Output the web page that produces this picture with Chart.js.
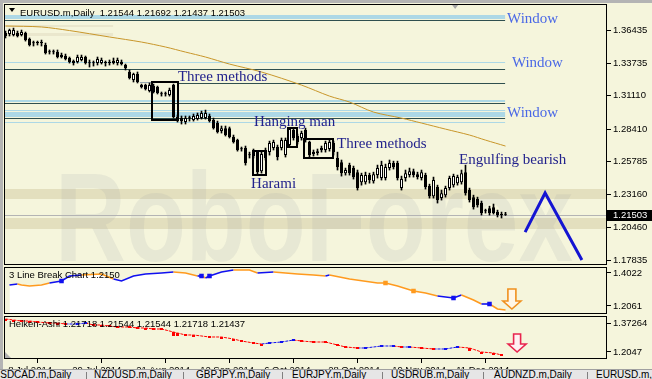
<!DOCTYPE html>
<html><head><meta charset="utf-8">
<script src="https://cdn.jsdelivr.net/npm/chart.js@4.4.1/dist/chart.umd.min.js"></script>
<style>
html,body{margin:0;padding:0;}
body{width:652px;height:379px;position:relative;overflow:hidden;background:#F5F5DC;}
canvas{position:absolute;display:block;}
#ftop{position:absolute;left:0;top:0;width:652px;height:3px;background:#B4B4B4;}
#fleft{position:absolute;left:0;top:0;width:3px;height:379px;background:#B4B4B4;}
#tabs{position:absolute;left:0;top:369px;width:652px;height:10px;background:#E6E6E6;border-top:1px solid #A0A0A0;overflow:hidden;font:10px "Liberation Sans",Arial,sans-serif;color:#000;}
#tabs span{position:absolute;top:0;line-height:10px;white-space:nowrap;}
#tabs .sep{position:absolute;top:2px;width:1px;height:10px;background:#808080;}
</style></head><body>
<canvas id="cMain" width="649" height="263" style="left:3px;top:3px"></canvas>
<canvas id="cLB" width="649" height="49" style="left:3px;top:266px"></canvas>
<canvas id="cHA" width="649" height="64" style="left:3px;top:315px"></canvas>
<div id="ftop"></div><div id="fleft"></div>
<div id="tabs"></div>
<script>
// ---------------- DATA ----------------
const symbolName = 'EURUSD.m,Daily';
const O = [1.3619,1.3611,1.3603,1.3619,1.3603,1.3619,1.3571,1.3538,1.3540,1.3538,1.3522,1.3465,1.3463,1.3465,1.3441,1.3433,1.3417,1.3393,1.3384,1.3401,
1.3425,1.3376,1.3374,1.3376,1.3376,1.3378,1.3384,1.3376,1.3376,1.3384,1.3360,1.3304,1.3239,1.3287,1.3198,1.3198,1.3150,1.3190,1.3182,1.3126,
1.3124,1.3117,1.3198,1.2939,1.2931,1.2899,1.2931,1.2915,1.2923,1.2931,1.2931,1.2948,1.2915,1.2891,1.2826,1.2850,1.2850,1.2778,1.2753,1.2681,
1.2689,1.2632,1.2673,1.2656,1.2502,1.2608,1.2656,1.2689,1.2697,1.2689,1.2632,1.2713,1.2834,1.2786,1.2770,1.2834,1.2737,1.2656,1.2648,1.2673,
1.2673,1.2681,1.2729,1.2608,1.2575,1.2486,1.2551,1.2527,1.2494,1.2413,1.2413,1.2470,1.2421,1.2470,1.2446,1.2446,1.2527,1.2567,1.2567,1.2365,
1.2446,1.2470,1.2502,1.2478,1.2446,1.2470,1.2381,1.2300,1.2373,1.2284,1.2308,1.2365,1.2389,1.2405,1.2413,1.2494,1.2349,1.2292,1.2276,1.2244,
1.2179,1.2203,1.2211,1.2171,1.2149,1.21544];
const H = [1.3635,1.3651,1.3659,1.3635,1.3643,1.3627,1.3579,1.3554,1.3554,1.3562,1.3538,1.3482,1.3482,1.3482,1.3457,1.3449,1.3425,1.3401,1.3441,1.3441,
1.3433,1.3401,1.3393,1.3425,1.3417,1.3393,1.3401,1.3417,1.3417,1.3401,1.3368,1.3320,1.3295,1.3304,1.3206,1.3206,1.3215,1.3206,1.3190,1.3142,
1.3142,1.3174,1.3206,1.2956,1.2948,1.2948,1.2948,1.2964,1.2972,1.2988,1.2996,1.2964,1.2931,1.2907,1.2867,1.2867,1.2859,1.2794,1.2761,1.2697,
1.2705,1.2656,1.2681,1.2664,1.2656,1.2689,1.2745,1.2753,1.2713,1.2770,1.2770,1.2850,1.2842,1.2802,1.2826,1.2850,1.2745,1.2673,1.2681,1.2705,
1.2745,1.2761,1.2745,1.2656,1.2592,1.2527,1.2567,1.2543,1.2511,1.2486,1.2494,1.2486,1.2494,1.2551,1.2583,1.2559,1.2592,1.2583,1.2583,1.2462,
1.2511,1.2527,1.2519,1.2494,1.2511,1.2486,1.2397,1.2454,1.2389,1.2349,1.2381,1.2462,1.2478,1.2470,1.2511,1.2551,1.2365,1.2308,1.2292,1.2260,
1.2195,1.2219,1.2236,1.2187,1.2171,1.21692];
const L = [1.3579,1.3595,1.3595,1.3587,1.3595,1.3554,1.3514,1.3514,1.3522,1.3514,1.3449,1.3449,1.3449,1.3417,1.3417,1.3401,1.3376,1.3360,1.3376,1.3393,
1.3368,1.3344,1.3352,1.3360,1.3368,1.3352,1.3360,1.3368,1.3360,1.3360,1.3320,1.3247,1.3223,1.3215,1.3174,1.3158,1.3142,1.3134,1.3126,1.3109,
1.3109,1.3109,1.2931,1.2899,1.2883,1.2883,1.2907,1.2907,1.2915,1.2923,1.2923,1.2899,1.2842,1.2810,1.2810,1.2786,1.2770,1.2729,1.2664,1.2664,
1.2551,1.2608,1.2608,1.2478,1.2486,1.2592,1.2632,1.2673,1.2592,1.2673,1.2616,1.2697,1.2753,1.2721,1.2753,1.2737,1.2616,1.2624,1.2632,1.2656,
1.2656,1.2664,1.2632,1.2511,1.2462,1.2470,1.2470,1.2438,1.2349,1.2389,1.2397,1.2405,1.2405,1.2446,1.2430,1.2430,1.2511,1.2519,1.2430,1.2349,
1.2421,1.2454,1.2454,1.2438,1.2430,1.2357,1.2284,1.2284,1.2244,1.2268,1.2292,1.2349,1.2373,1.2389,1.2397,1.2308,1.2252,1.2195,1.2211,1.2147,
1.2163,1.2147,1.2155,1.2131,1.2123,1.21437];
const C = [1.3595,1.3643,1.3643,1.3595,1.3627,1.3562,1.3522,1.3536,1.3538,1.3540,1.3457,1.3463,1.3465,1.3425,1.3425,1.3409,1.3384,1.3376,1.3425,1.3425,
1.3376,1.3374,1.3376,1.3409,1.3401,1.3376,1.3376,1.3393,1.3401,1.3368,1.3336,1.3255,1.3287,1.3223,1.3182,1.3166,1.3198,1.3142,1.3134,1.3124,
1.3126,1.3158,1.2939,1.2915,1.2907,1.2931,1.2929,1.2948,1.2956,1.2972,1.2972,1.2907,1.2850,1.2818,1.2850,1.2794,1.2778,1.2737,1.2673,1.2679,
1.2567,1.2630,1.2624,1.2494,1.2640,1.2673,1.2729,1.2737,1.2616,1.2753,1.2753,1.2842,1.2770,1.2737,1.2810,1.2753,1.2632,1.2640,1.2664,1.2689,
1.2729,1.2737,1.2656,1.2535,1.2486,1.2511,1.2486,1.2454,1.2365,1.2470,1.2470,1.2430,1.2478,1.2527,1.2551,1.2535,1.2567,1.2535,1.2446,1.2438,
1.2486,1.2502,1.2470,1.2454,1.2494,1.2373,1.2300,1.2430,1.2268,1.2324,1.2365,1.2446,1.2462,1.2454,1.2486,1.2324,1.2268,1.2211,1.2227,1.2163,
1.2177,1.2163,1.2163,1.2147,1.2147,1.21503];

// moving average (sparse readings, bar index / price)
const maIdx = [0,9,16,26,34,40,45,50,56,64,74,81,86,92,99,104,110,116,120,125];
const maVal = [1.3676,1.3668,1.3639,1.3587,1.3546,1.3506,1.3465,1.3425,1.3368,1.3304,1.3198,1.3109,1.3061,1.2980,1.2931,1.2891,1.2842,1.2794,1.2753,1.2705];

// forecast zigzag
const zzIdx = [129.9, 134.9, 144.1];
const zzVal = [1.2009, 1.2325, 1.1783];

// price axis
const priceTicks = [1.36435,1.33735,1.31110,1.28410,1.25785,1.23160,1.20460,1.17835];

// horizontal levels ("Window" gaps)
const levelEnd = 124.9;
const blueBandTop = [1.3762, 1.3077, 1.2980];
const blueBandBot = [1.3735, 1.3065, 1.2939];
const blueLine = [1.3384, 1.2996, 1.2899];
const darkLine = [1.3728, 1.3328, 1.3057, 1.2931];
const darkShort = 1.3215, darkShortFrom = 43.1;
const grayShort = 1.3223, grayShortFrom = 33.6, grayShortTo = 43.1;

// support/resistance zones
const supTop = [1.2357, 1.2123];
const supBot = [1.2276, 1.2034];
const oldTop = [1.3684, 1.3619];
const oldBot = [1.3664, 1.3591];
const oldTo = 26.9;

// pattern boxes
const boxFrom = [36.6, 61.9, 70.6, 74.6];
const boxTo   = [43.1, 65.1, 72.9, 81.9];
const boxTop  = [1.3223, 1.2664, 1.2850, 1.2761];
const boxBot  = [1.2915, 1.2470, 1.2697, 1.2608];

// labels
const patText  = ['Three methods','Hanging man','Three methods','Harami','Engulfing bearish'];
const patIdx   = [43.1, 62.1, 82.9, 61.4, 113.4];
const patPrice = [1.3231, 1.2867, 1.2689, 1.2365, 1.2559];
const winText  = ['Window','Window','Window'];
const winIdx   = [125.4, 126.6, 125.4];
const winPrice = [1.3700, 1.3344, 1.2939];
const shiftIdx = 112.4;

// 3 Line Break sub-window
const lbTitle = '3 Line Break Chart 1.2150';
const lbIdx = [1,3,4,6,9,11,14,16,19,24,27,29,32,35,39,42,45,48,49,50,51,54,57,61,63,67,70,73,77,80,81,86,93,95,98,102,105,108,112,114,117,119,121,123,125];
const lbVal = [1.3309,1.3368,1.3309,1.3250,1.3309,1.3428,1.3547,1.3844,1.3903,1.3963,1.3665,1.3547,1.3844,1.3963,1.4022,1.4081,1.4022,1.3844,1.3844,1.3725,
1.3844,1.4081,1.4200,1.4200,1.4022,1.4081,1.4022,1.3963,1.3903,1.3844,1.3903,1.3665,1.3428,1.3428,1.3250,1.2952,1.2834,1.2655,1.2537,1.2715,
1.2418,1.2180,1.2180,1.1883,1.1824];
const lbCol = ['b','b','o','o','o','o','b','b','b','o','o','b','b','b','b','b','o','o','b','o','b','b','b','o','o','b','o','o','o','o','b','o','o','o','o','o','o','o','b','b','o','o','b','o','o'];
const lbSq  = [14,49,51,95,102,112,121];
const lbTicks = [1.4022, 1.2061];
const lbTickLbl = ['1.4022','1.2061'];
const lbArrowIdx = 126.6, lbArrowVal = 1.3071;

// Heiken-Ashi sub-window
const haHeader = ['1.21718','1.21544','1.21544','1.21718','1.21437'];
const haIdx = [0,2,4,6,8,11,13,15,18,20,22,24,26,28,31,33,35,37,39,42,43,45,47,51,54,57,59,62,64,66,69,72,74,77,80,83,85,88,90,94,97,99,101,104,107,110,113,116,119,122,124];
const haTop = [1.3958,1.3900,1.3842,1.3842,1.3784,1.3726,1.3726,1.3669,1.3669,1.3726,1.3611,1.3611,1.3553,1.3495,1.3495,1.3437,1.3437,1.3379,1.3379,1.3205,
1.3147,1.3032,1.3032,1.2916,1.2916,1.2800,1.2684,1.2568,1.2510,1.2568,1.2626,1.2742,1.2684,1.2626,1.2626,1.2452,1.2337,1.2279,1.2279,1.2395,
1.2395,1.2337,1.2337,1.2279,1.2221,1.2221,1.2337,1.2279,1.2047,1.1989,1.1873];
const haBot = [1.3842,1.3784,1.3784,1.3726,1.3726,1.3669,1.3611,1.3611,1.3611,1.3669,1.3553,1.3495,1.3495,1.3437,1.3437,1.3379,1.3321,1.3321,1.3321,1.2974,
1.2974,1.2974,1.2916,1.2858,1.2800,1.2684,1.2626,1.2510,1.2395,1.2510,1.2568,1.2684,1.2626,1.2568,1.2568,1.2395,1.2279,1.2221,1.2221,1.2337,
1.2337,1.2279,1.2279,1.2221,1.2163,1.2163,1.2279,1.2105,1.1931,1.1873,1.1815];
const haCol = ['r','r','r','r','r','r','r','r','b','b','r','r','r','r','r','r','r','r','r','r','r','r','r','r','r','r','r','r','r','b','b','b','r','r','r','r','r','r','b','b','b','r','b','r','r','b','b','r','r','r','r'];
const haTicks = [1.37264, 1.2047];
const haTickLbl = ['1.37264','1.2047'];
const haArrowIdx = 127.9, haArrowVal = 1.3089;

// date axis
const dateIdx = [0,16,32,48,64,80,96,112];
const dateLbl = ['8 Jul 2014','29 Jul 2014','21 Aug 2014','12 Sep 2014','6 Oct 2014','28 Oct 2014','19 Nov 2014','11 Dec 2014'];

// bottom tabs
const tabNames = ['USDCAD.m,Daily','NZDUSD.m,Daily','GBPJPY.m,Daily','EURJPY.m,Daily','USDRUB.m,Daily','AUDNZD.m,Daily','EURUSD.m,Daily'];

// ---------------- LAYOUT / STYLE ----------------
const SANS = '"Liberation Sans", Arial, sans-serif';
const SERIF = '"Liberation Serif", "Times New Roman", serif';
Chart.defaults.font.family = SANS;
const xMin = -0.375, xMax = 150.375;
const tabX = [-7, 94, 196, 292, 391, 494, 596];
const tabSep = [86, 183, 282, 382, 483, 587];

function xAxisHidden(){ return {type:'linear', min:xMin, max:xMax, offset:false, display:false}; }
function yAxis(min, max, vals, lbls){
  return {position:'right', min:min, max:max,
    afterBuildTicks: s => { s.ticks = vals.map(v => ({value:v})); },
    afterFit: s => { s.width = 45; s.paddingTop = 0; s.paddingBottom = 0; },
    ticks:{autoSkip:false, padding:2, color:'#000', font:{size:9.5}, callback:(v,i)=>lbls[i]},
    grid:{drawOnChartArea:false, tickLength:4, color:'#000', lineWidth:1},
    border:{display:false}};
}
function baseOpts(padBottom){
  return {responsive:false, animation:false, devicePixelRatio:1, events:[],
    layout:{padding:{left:1, top:1, right:0, bottom:padBottom}, autoPadding:false},
    plugins:{legend:{display:false}, tooltip:{enabled:false}}};
}
function clipArea(ctx, a){ ctx.beginPath(); ctx.rect(a.left, a.top, a.right-a.left, a.bottom-a.top); ctx.clip(); }
function hline(ctx, x0, x1, y, color, w){ ctx.fillStyle = color; ctx.fillRect(x0, Math.round(y), x1-x0, w||1); }
function borderRect(ctx, a){ ctx.save(); ctx.strokeStyle='#000'; ctx.lineWidth=1; ctx.strokeRect(a.left+0.5, a.top+0.5, a.right-a.left-1, a.bottom-a.top-1); ctx.restore(); }
function downArrow(ctx, cx, top, sw, sh, hw, hh, stroke, fill){
  ctx.beginPath();
  ctx.moveTo(cx-sw/2, top); ctx.lineTo(cx+sw/2, top); ctx.lineTo(cx+sw/2, top+sh);
  ctx.lineTo(cx+hw/2, top+sh); ctx.lineTo(cx, top+sh+hh); ctx.lineTo(cx-hw/2, top+sh);
  ctx.lineTo(cx-sw/2, top+sh); ctx.closePath();
  ctx.fillStyle = fill; ctx.fill(); ctx.lineWidth = 1.6; ctx.strokeStyle = stroke; ctx.stroke();
}

// ---------------- MAIN CHART ----------------
const mainDecor = {
  id:'mainDecor',
  beforeDatasetsDraw(chart){
    const {ctx, chartArea:a, scales:{x, y}} = chart;
    const X = v => x.getPixelForValue(v), Y = v => y.getPixelForValue(v);
    ctx.save(); clipArea(ctx, a);
    ctx.fillStyle = '#EAE7CD';
    oldTop.forEach((t,i)=>{ const y0=Math.round(Y(t)), y1=Math.round(Y(oldBot[i])); ctx.fillRect(a.left, y0, X(oldTo)-a.left, y1-y0); });
    ctx.fillStyle = '#E3DFBE';
    supTop.forEach((t,i)=>{ const y0=Math.round(Y(t)), y1=Math.round(Y(supBot[i])); ctx.fillRect(a.left, y0, a.right-a.left, y1-y0); });
    // watermark
    ctx.save();
    ctx.font = 'bold 128px ' + SANS;
    const w = ctx.measureText('RoboForex').width;
    ctx.translate(a.left + 51, a.top + 257);
    ctx.scale(518 / w, 0.98);
    ctx.fillStyle = 'rgba(150,158,160,0.14)';
    ctx.fillText('RoboForex', 0, 0);
    ctx.restore();
    const xe = X(levelEnd);
    ctx.fillStyle = '#ADD8E6';
    blueBandTop.forEach((t,i)=>{ const y0=Math.round(Y(t)), y1=Math.round(Y(blueBandBot[i])); ctx.fillRect(a.left, y0, xe-a.left, Math.max(1,y1-y0)); });
    blueLine.forEach(v => hline(ctx, a.left, xe, Y(v), '#ADD8E6', 1));
    darkLine.forEach(v => hline(ctx, a.left, xe, Y(v), '#2F4F4F', 1));
    hline(ctx, X(darkShortFrom), xe, Y(darkShort), '#2F4F4F', 1);
    hline(ctx, X(grayShortFrom), X(grayShortTo), Y(grayShort), '#98A8B0', 1);
    hline(ctx, a.left, a.right, Y(C[C.length-1]), '#B4B4B4', 1);
    ctx.restore();
  },
  afterDatasetsDraw(chart){
    const {ctx, chartArea:a, scales:{x, y}} = chart;
    const X = v => x.getPixelForValue(v), Y = v => y.getPixelForValue(v);
    ctx.save(); clipArea(ctx, a);
    ctx.strokeStyle = '#000'; ctx.lineWidth = 2;
    boxFrom.forEach((f,i)=>{ const x0=Math.round(X(f)), x1=Math.round(X(boxTo[i])), y0=Math.round(Y(boxTop[i])), y1=Math.round(Y(boxBot[i])); ctx.strokeRect(x0, y0, x1-x0, y1-y0); });
    ctx.font = '15px ' + SERIF; ctx.textBaseline = 'alphabetic'; ctx.textAlign = 'left';
    ctx.fillStyle = '#22228C';
    patText.forEach((t,i)=> ctx.fillText(t, X(patIdx[i]), Y(patPrice[i])));
    ctx.fillStyle = '#4A68E6';
    winText.forEach((t,i)=> ctx.fillText(t, X(winIdx[i]), Y(winPrice[i])));
    const sx = X(shiftIdx);
    ctx.fillStyle = '#A8A8A8';
    ctx.beginPath(); ctx.moveTo(sx-3, a.top+1); ctx.lineTo(sx+3, a.top+1); ctx.lineTo(sx, a.top+5); ctx.closePath(); ctx.fill();
    ctx.fillStyle = '#000';
    ctx.beginPath(); ctx.moveTo(a.left+5, a.top+4); ctx.lineTo(a.left+11, a.top+4); ctx.lineTo(a.left+8, a.top+8); ctx.closePath(); ctx.fill();
    ctx.font = '9.5px ' + SANS; ctx.textBaseline = 'middle';
    const n = C.length-1;
    ctx.fillText(symbolName + '  ' + [O[n],H[n],L[n],C[n]].map(v=>v.toFixed(5)).join(' '), a.left+16, a.top+9);
    ctx.restore();
    borderRect(ctx, a);
    const yp = Y(C[n]);
    ctx.fillStyle = '#000';
    ctx.fillRect(a.right, Math.round(yp)-5, chart.width - a.right, 11);
    ctx.fillStyle = '#FFF'; ctx.font = '9.5px ' + SANS; ctx.textBaseline = 'middle';
    ctx.fillText(C[n].toFixed(5), a.right+6, Math.round(yp)+0.5);
  }
};

new Chart(document.getElementById('cMain'), {
  type:'bar',
  data:{datasets:[
    {type:'bar', data:C.map((c,i)=>({x:i, y:[O[i], c]})), grouped:false, barPercentage:0.75, categoryPercentage:1,
     minBarLength:1, borderWidth:1, borderColor:'#000', borderSkipped:false,
     backgroundColor: ctx => (C[ctx.dataIndex] >= O[ctx.dataIndex] ? '#FFFFFF' : '#000000')},
    {type:'bar', data:C.map((c,i)=>({x:i, y:[L[i], H[i]]})), grouped:false, maxBarThickness:1, barPercentage:1, categoryPercentage:1,
     backgroundColor:'#000', borderWidth:0},
    {type:'line', data:maIdx.map((k,i)=>({x:k, y:maVal[i]})), borderColor:'#C8962A', borderWidth:1, pointRadius:0, tension:0.3},
    {type:'line', data:zzIdx.map((k,i)=>({x:k, y:zzVal[i]})), borderColor:'#1414D2', borderWidth:3, pointRadius:0, tension:0}
  ]},
  options:Object.assign(baseOpts(1), {scales:{x:xAxisHidden(), y:yAxis(1.17431, 1.38538, priceTicks, priceTicks.map(v=>v.toFixed(5)))}}),
  plugins:[mainDecor]
});

// ---------------- 3 LINE BREAK ----------------
const lbDecor = {
  id:'lbDecor',
  afterDatasetsDraw(chart){
    const {ctx, chartArea:a, scales:{x, y}} = chart;
    ctx.save(); clipArea(ctx, a);
    downArrow(ctx, x.getPixelForValue(lbArrowIdx), y.getPixelForValue(lbArrowVal), 8, 12, 18, 8, '#F0901E', '#FFF6E6');
    ctx.fillStyle = '#000'; ctx.font = '9.5px ' + SANS; ctx.textBaseline = 'middle';
    ctx.fillText(lbTitle, a.left+5, a.top+8.5);
    ctx.restore();
    borderRect(ctx, a);
  }
};
const lbPoints = lbIdx.map((k,i)=>({x:k, y:lbVal[i]}));
new Chart(document.getElementById('cLB'), {
  type:'line',
  data:{datasets:[
    {data:lbPoints, borderWidth:1.6, tension:0, fill:false,
     segment:{borderColor: c => lbCol[c.p1DataIndex]==='b' ? '#1010F0' : '#FF9A1E'},
     pointStyle:'rect', pointBorderWidth:0,
     pointRadius: c => lbSq.includes(lbIdx[c.dataIndex]) ? 3.2 : 0,
     pointBackgroundColor: c => lbCol[c.dataIndex]==='b' ? '#1010F0' : '#FF9A1E'},
    {data:lbPoints, fill:'start', backgroundColor:'#FFFFFF', borderWidth:0, borderColor:'rgba(0,0,0,0)', pointRadius:0, tension:0}
  ]},
  options:Object.assign(baseOpts(1), {scales:{x:xAxisHidden(), y:yAxis(1.15856, 1.43785, lbTicks, lbTickLbl)}}),
  plugins:[lbDecor]
});

// ---------------- HEIKEN ASHI ----------------
const haDecor = {
  id:'haDecor',
  afterDatasetsDraw(chart){
    const {ctx, chartArea:a, scales:{x, y}} = chart;
    ctx.save(); clipArea(ctx, a);
    downArrow(ctx, x.getPixelForValue(haArrowIdx), y.getPixelForValue(haArrowVal), 7, 10, 18, 8, '#E8244E', '#FFF0F2');
    ctx.fillStyle = '#000'; ctx.font = '9.5px ' + SANS; ctx.textBaseline = 'middle';
    ctx.fillText('Heiken-Ashi ' + haHeader.join(' '), a.left+5, a.top+8.5);
    ctx.fillStyle = '#B0B0B0';
    ctx.beginPath(); ctx.moveTo(a.left+1, a.bottom-7); ctx.lineTo(a.left+1, a.bottom-1); ctx.lineTo(a.left+7, a.bottom-1); ctx.closePath(); ctx.fill();
    ctx.restore();
    borderRect(ctx, a);
  }
};
const haColor = c => haCol[c.dataIndex]==='b' ? '#1010F0' : '#FF0000';
new Chart(document.getElementById('cHA'), {
  type:'bar',
  data:{datasets:[
    {type:'bar', data:haIdx.map((k,i)=>({x:k, y:[haBot[i], haTop[i]]})), grouped:false, barPercentage:0.75, categoryPercentage:1,
     minBarLength:2, borderWidth:0, backgroundColor:haColor},
    {type:'line', data:haIdx.map((k,i)=>({x:k, y:haTop[i]})), borderWidth:1, pointRadius:0, tension:0, borderDash:[3,1],
     segment:{borderColor: c => haCol[c.p1DataIndex]==='b' ? '#1010F0' : '#FF0000'}}
  ]},
  options:Object.assign(baseOpts(0), {scales:{
    x:{type:'linear', min:xMin, max:xMax, offset:false, position:'bottom',
       afterBuildTicks: s => { s.ticks = dateIdx.map(v => ({value:v})); },
       afterFit: s => { s.height = 20; s.paddingLeft = 0; s.paddingRight = 0; },
       ticks:{autoSkip:false, maxRotation:0, minRotation:0, align:'start', padding:2, color:'#000', font:{size:9.5}, callback:(v,i)=>' '+dateLbl[i]},
       grid:{drawOnChartArea:false, tickLength:4, color:'#000'}, border:{display:false}},
    y:yAxis(1.16416, 1.41318, haTicks, haTickLbl)}}),
  plugins:[haDecor]
});

// ---------------- TABS ----------------
const tabsEl = document.getElementById('tabs');
tabNames.forEach((t,i)=>{ const s=document.createElement('span'); s.textContent=t; s.style.left=tabX[i]+'px'; tabsEl.appendChild(s); });
tabSep.forEach(p=>{ const d=document.createElement('div'); d.className='sep'; d.style.left=p+'px'; tabsEl.appendChild(d); });
</script>
</body></html>
